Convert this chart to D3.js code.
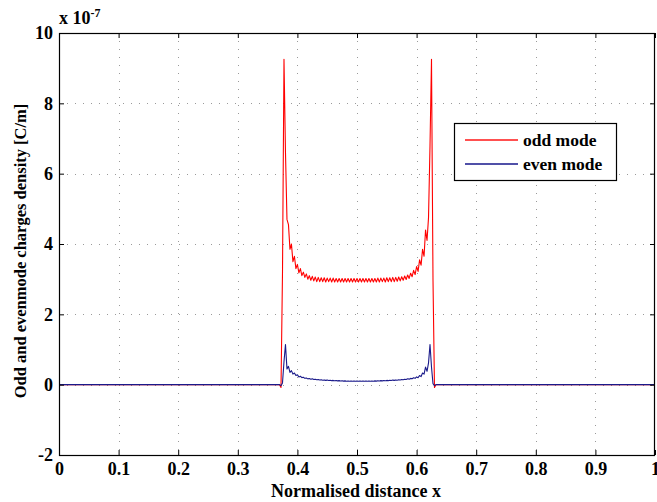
<!DOCTYPE html>
<html>
<head>
<meta charset="utf-8">
<script src="https://cdn.jsdelivr.net/npm/d3@7"></script>
<style>
  html, body { margin: 0; padding: 0; background: #fff; }
  svg { display: block; }
  text { font-family: "Liberation Serif", "Times New Roman", serif; font-weight: bold; fill: #000; }
</style>
</head>
<body>
<svg id="chart" width="657" height="502"></svg>
<script>
// ---- data (values in units of 1e-7 C/m) ----
const xTicks = [0, 0.1, 0.2, 0.3, 0.4, 0.5, 0.6, 0.7, 0.8, 0.9, 1];
const xTickLabels = ["0", "0.1", "0.2", "0.3", "0.4", "0.5", "0.6", "0.7", "0.8", "0.9", "1"];
const yTicks = [-2, 0, 2, 4, 6, 8, 10];
const yTickLabels = ["-2", "0", "2", "4", "6", "8", "10"];
const seriesNames = ["odd mode", "even mode"];
const seriesColors = ["#ff0000", "#1a1a8a"];
const legendColors = ["#ff5050", "#5050a8"];

// sampled region of the strip: x = gridStart + i * gridStep
const gridStart = 0.37;
const gridStep = 0.0025;
// outer flat region endpoints
const outerX = [0, 1];
const outerVal = [0, 0];

const oddMode = [
  0, -0.08, 3.2, 9.25, 6.6, 4.7, 4.55, 3.85, 4.0, 3.5,
  3.65, 3.3, 3.42, 3.18, 3.3, 3.1, 3.2, 3.05, 3.15, 3.0,
  3.1, 2.97, 3.08, 2.95, 3.06, 2.93, 3.05, 2.93, 3.04, 2.93,
  3.04, 2.92, 3.03, 2.93, 3.03, 2.92, 3.03, 2.92, 3.02, 2.92,
  3.02, 2.92, 3.02, 2.92, 3.02, 2.92, 3.02, 2.92, 3.02, 2.92,
  3.02, 2.92, 3.02, 2.92, 3.02, 2.92, 3.02, 2.92, 3.02, 2.92,
  3.02, 2.92, 3.02, 2.92, 3.02, 2.92, 3.03, 2.92, 3.03, 2.93,
  3.03, 2.92, 3.04, 2.93, 3.04, 2.93, 3.05, 2.93, 3.05, 2.94,
  3.06, 2.95, 3.07, 2.97, 3.09, 2.99, 3.12, 3.02, 3.17, 3.07,
  3.25, 3.13, 3.36, 3.22, 3.55, 3.4, 3.85, 3.65, 4.4, 4.1,
  4.75, 6.8, 9.25, 3.0, -0.08, 0
];
const evenMode = [
  0, -0.03, 0.05, 0.65, 1.14, 0.45, 0.52, 0.35, 0.4, 0.3,
  0.33, 0.26, 0.28, 0.22, 0.24, 0.2, 0.21, 0.18, 0.19, 0.165,
  0.175, 0.155, 0.165, 0.145, 0.155, 0.14, 0.148, 0.133, 0.141, 0.127,
  0.135, 0.122, 0.13, 0.118, 0.125, 0.114, 0.121, 0.11, 0.117, 0.107,
  0.114, 0.104, 0.111, 0.101, 0.108, 0.099, 0.106, 0.097, 0.104, 0.096,
  0.103, 0.095, 0.102, 0.095, 0.102, 0.095, 0.102, 0.095, 0.103, 0.096,
  0.104, 0.097, 0.106, 0.099, 0.108, 0.101, 0.111, 0.104, 0.114, 0.107,
  0.117, 0.11, 0.121, 0.114, 0.125, 0.118, 0.13, 0.122, 0.135, 0.127,
  0.141, 0.133, 0.148, 0.14, 0.156, 0.148, 0.166, 0.157, 0.178, 0.168,
  0.195, 0.18, 0.22, 0.2, 0.26, 0.23, 0.33, 0.3, 0.5, 0.38,
  0.62, 1.14, 0.5, 0.03, -0.03, 0
];

// ---- layout ----
const svg = d3.select("#chart");
const L = 59, R = 655, T = 33, B = 455;
const x = d3.scaleLinear().domain([0, 1]).range([L, R]);
const y = d3.scaleLinear().domain([-2, 10]).range([B, T]);
const FONT = '"Liberation Serif", "Times New Roman", serif';

function toPoints(vals) {
  const pts = [[outerX[0], outerVal[0]]];
  vals.forEach((v, i) => pts.push([gridStart + i * gridStep, v]));
  pts.push([outerX[1], outerVal[1]]);
  return pts;
}

// grid
const grid = svg.append("g").attr("stroke", "#9a9a9a").attr("stroke-width", 1)
  .attr("stroke-dasharray", "1,7").attr("fill", "none");
xTicks.slice(1, -1).forEach(t => {
  grid.append("line").attr("x1", Math.round(x(t)) + 0.5).attr("x2", Math.round(x(t)) + 0.5)
    .attr("y1", T).attr("y2", B);
});
yTicks.slice(1, -1).forEach(t => {
  grid.append("line").attr("y1", Math.round(y(t)) + 0.5).attr("y2", Math.round(y(t)) + 0.5)
    .attr("x1", L).attr("x2", R);
});

// lines
const line = d3.line().x(d => x(d[0])).y(d => y(d[1]));
[oddMode, evenMode].forEach((vals, k) => {
  svg.append("path").datum(toPoints(vals))
    .attr("fill", "none").style("stroke", seriesColors[k])
    .attr("stroke-width", 1.1).attr("stroke-linejoin", "round")
    .attr("d", line);
});

// axes (ticks inside, box)
const tickLen = 5;
const xAxisB = d3.axisBottom(x).tickValues(xTicks).tickFormat((d, i) => xTickLabels[i])
  .tickSizeInner(-tickLen).tickSizeOuter(0).tickPadding(7);
const xAxisT = d3.axisTop(x).tickValues(xTicks).tickFormat("")
  .tickSizeInner(-tickLen).tickSizeOuter(0);
const yAxisL = d3.axisLeft(y).tickValues(yTicks).tickFormat((d, i) => yTickLabels[i])
  .tickSizeInner(-tickLen).tickSizeOuter(0).tickPadding(6);
const yAxisR = d3.axisRight(y).tickValues(yTicks).tickFormat("")
  .tickSizeInner(-tickLen).tickSizeOuter(0);

function styleAxis(g) {
  g.select(".domain").remove();
  g.selectAll(".tick line").attr("stroke", "#000");
  g.selectAll("text").attr("font-size", 18)
    .style("font-family", FONT).style("font-weight", "bold");
}
svg.append("g").attr("transform", `translate(0,${B})`).call(xAxisB).call(styleAxis);
svg.append("g").attr("transform", `translate(0,${T})`).call(xAxisT).call(styleAxis);
svg.append("g").attr("transform", `translate(${L},0)`).call(yAxisL).call(styleAxis);
svg.append("g").attr("transform", `translate(${R},0)`).call(yAxisR).call(styleAxis);

svg.append("rect").attr("x", L + 0.5).attr("y", T + 0.5)
  .attr("width", R - L - 1).attr("height", B - T)
  .attr("fill", "none").attr("stroke", "#000").attr("stroke-width", 1.2);

// exponent label
const expo = svg.append("text").attr("x", 59).attr("y", 24).attr("font-size", 18);
expo.append("tspan").text("x 10");
expo.append("tspan").attr("dy", -7).attr("font-size", 12).text("-7");

// axis titles
svg.append("text").attr("x", (L + R) / 2 - 1).attr("y", 497).attr("text-anchor", "middle")
  .attr("font-size", 18).text("Normalised distance x");
svg.append("text").attr("transform", `translate(26,251) rotate(-90)`)
  .attr("text-anchor", "middle").attr("font-size", 16.5)
  .text("Odd and evenmode charges density [C/m]");

// legend
const lg = svg.append("g");
lg.append("rect").attr("x", 454.5).attr("y", 123.5).attr("width", 162).attr("height", 57)
  .attr("fill", "#fff").attr("stroke", "#000").attr("stroke-width", 1.2);
seriesNames.forEach((n, k) => {
  const yy = 139 + k * 24;
  lg.append("rect").attr("x", 465).attr("y", yy).attr("width", 53).attr("height", 2)
    .style("fill", legendColors[k]);
  lg.append("text").attr("x", 523).attr("y", yy + 6.5).attr("font-size", 17.5).text(n);
});
</script>
</body>
</html>
